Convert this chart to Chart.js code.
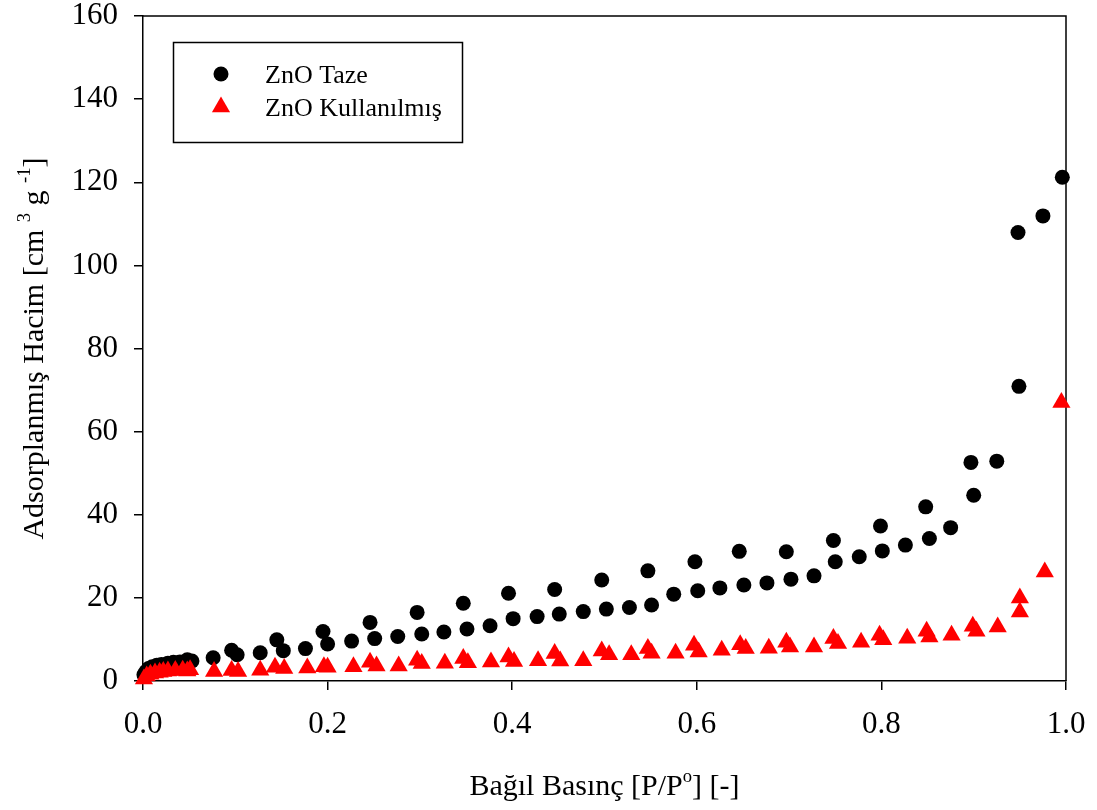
<!DOCTYPE html>
<html lang="tr">
<head>
<meta charset="UTF-8">
<title>ZnO Adsorpsiyon İzotermi</title>
<script src="https://cdn.jsdelivr.net/npm/chart.js"></script>
<style>
  body { margin: 0; background: #fff; }
</style>
</head>
<body>
<canvas id="isothermChart" width="1097" height="810"></canvas>
<script>
// Relative pressure (P/Po) and adsorbed volume; adsorption branch first, then desorption
const tazeP = [0.001, 0.003, 0.006, 0.010, 0.015, 0.020, 0.027, 0.033, 0.040, 0.048,
  0.053, 0.076, 0.102, 0.127, 0.152, 0.176, 0.200, 0.226, 0.251, 0.276,
  0.302, 0.326, 0.351, 0.376, 0.401, 0.427, 0.451, 0.477, 0.502, 0.527,
  0.551, 0.575, 0.601, 0.625, 0.651, 0.676, 0.702, 0.727, 0.750, 0.776,
  0.801, 0.826, 0.852, 0.875, 0.900, 0.925, 0.949, 0.975, 0.996,
  0.948, 0.897, 0.848, 0.799, 0.748, 0.697, 0.646, 0.598, 0.547, 0.497,
  0.446, 0.396, 0.347, 0.297, 0.246, 0.195, 0.145, 0.096, 0.048];
const tazeV = [1.5, 2.2, 3.0, 3.4, 3.8, 4.0, 4.3, 4.5, 4.6, 4.9,
  4.8, 5.6, 6.3, 6.8, 7.3, 7.8, 8.9, 9.6, 10.2, 10.7,
  11.3, 11.8, 12.5, 13.3, 15.0, 15.5, 16.1, 16.7, 17.3, 17.7,
  18.3, 20.9, 21.7, 22.4, 23.1, 23.6, 24.5, 25.3, 28.7, 29.9,
  31.3, 32.7, 34.3, 36.9, 44.7, 52.9, 70.9, 111.9, 121.2,
  107.9, 52.6, 41.9, 37.3, 33.8, 31.1, 31.2, 28.7, 26.5, 24.3,
  22.0, 21.1, 18.7, 16.5, 14.1, 11.9, 9.9, 7.4, 5.1];

const kullP = [0.001, 0.004, 0.008, 0.013, 0.018, 0.022, 0.027, 0.035, 0.043, 0.051,
  0.077, 0.103, 0.127, 0.153, 0.178, 0.200, 0.228, 0.253, 0.277, 0.302,
  0.327, 0.352, 0.377, 0.402, 0.428, 0.452, 0.477, 0.505, 0.529, 0.551,
  0.577, 0.602, 0.627, 0.653, 0.678, 0.701, 0.727, 0.753, 0.778, 0.802,
  0.828, 0.852, 0.876, 0.903, 0.926, 0.950, 0.977, 0.995,
  0.950, 0.899, 0.849, 0.798, 0.748, 0.697, 0.647, 0.597, 0.547, 0.497,
  0.446, 0.396, 0.347, 0.297, 0.246, 0.196, 0.143, 0.096, 0.048];
const kullV = [0.5, 1.2, 1.6, 1.9, 2.1, 2.3, 2.4, 2.5, 2.6, 2.7,
  2.3, 2.3, 2.6, 3.0, 3.1, 3.3, 3.4, 3.6, 3.6, 4.2,
  4.3, 4.4, 4.6, 4.7, 4.9, 4.8, 4.9, 6.3, 6.3, 6.7,
  6.7, 7.0, 7.4, 7.8, 7.9, 8.2, 8.2, 9.0, 9.3, 9.9,
  10.3, 10.6, 11.0, 12.0, 13.0, 16.6, 26.2, 67.0,
  20.0, 13.2, 12.0, 11.0, 10.2, 9.3, 8.7, 8.6, 7.8, 7.2,
  6.6, 5.8, 5.4, 5.0, 4.5, 3.4, 3.3, 2.5, 2.4];

const xTicks = [0, 0.2, 0.4, 0.6, 0.8, 1.0];
const yTicks = [0, 20, 40, 60, 80, 100, 120, 140, 160];

const seriesNames = ['ZnO Taze', 'ZnO Kullanılmış'];

const FONT = "'Liberation Serif', 'Times New Roman', serif";

function toPoints(xs, ys) {
  return xs.map((x, i) => ({ x: x, y: ys[i] }));
}

// text with raised parts, e.g. cm³ g⁻¹
function richWidth(ctx, parts, size) {
  let w = 0;
  parts.forEach(p => {
    ctx.font = (p.sup ? size * 0.62 : size) + 'px ' + FONT;
    w += ctx.measureText(p.t).width;
  });
  return w;
}
function drawRich(ctx, parts, x, y, size) {
  let cx = x;
  parts.forEach(p => {
    ctx.font = (p.sup ? size * 0.62 : size) + 'px ' + FONT;
    ctx.fillText(p.t, cx, p.sup ? y - size * 0.42 : y);
    cx += ctx.measureText(p.t).width;
  });
}

const xTitle = [{ t: 'Bağıl Basınç [P/P' }, { t: 'o', sup: true }, { t: '] [-]' }];
const yTitle = [{ t: 'Adsorplanmış Hacim [cm ' }, { t: '3', sup: true },
  { t: ' g ' }, { t: '-1', sup: true }, { t: ']' }];

// top/right frame lines and axis titles
const framePlugin = {
  id: 'frame',
  beforeDatasetsDraw(chart) {
    const { ctx, chartArea: a } = chart;
    ctx.save();
    ctx.strokeStyle = '#000';
    ctx.lineWidth = 1.5;
    ctx.beginPath();
    ctx.moveTo(a.left, a.top);
    ctx.lineTo(a.right, a.top);
    ctx.lineTo(a.right, a.bottom);
    ctx.stroke();
    ctx.restore();
  },
  afterDraw(chart) {
    const { ctx, chartArea: a } = chart;
    const size = 30;
    ctx.save();
    ctx.fillStyle = '#000';
    ctx.textBaseline = 'alphabetic';
    ctx.textAlign = 'left';
    const xw = richWidth(ctx, xTitle, size);
    drawRich(ctx, xTitle, (a.left + a.right) / 2 - xw / 2, 795, size);

    ctx.translate(43, (a.top + a.bottom) / 2);
    ctx.rotate(-Math.PI / 2);
    const yw = richWidth(ctx, yTitle, size);
    drawRich(ctx, yTitle, -yw / 2, 0, size);
    ctx.restore();
  }
};

// boxed legend inside the plot area
const legendPlugin = {
  id: 'boxLegend',
  afterDraw(chart) {
    const { ctx, chartArea: a } = chart;
    const left = a.left + 30, top = a.top + 26, w = 289, h = 100;
    ctx.save();
    ctx.strokeStyle = '#000';
    ctx.lineWidth = 1.5;
    ctx.strokeRect(left + 0.5, top + 0.5, w, h);
    ctx.font = '26px ' + FONT;
    ctx.fillStyle = '#000';
    ctx.textBaseline = 'alphabetic';
    const rows = [0, 1];
    rows.forEach(i => {
      const ds = chart.data.datasets.find(d => d.label === seriesNames[i]);
      const cy = top + 32 + i * 33;
      const mx = left + 48;
      ctx.fillStyle = ds.backgroundColor;
      ctx.beginPath();
      if (ds.pointStyle === 'triangle') {
        const r = ds.pointRadius;
        ctx.moveTo(mx, cy - r);
        ctx.lineTo(mx + Math.sin(2 * Math.PI / 3) * r, cy + r / 2);
        ctx.lineTo(mx - Math.sin(2 * Math.PI / 3) * r, cy + r / 2);
        ctx.closePath();
      } else {
        ctx.arc(mx, cy, ds.pointRadius, 0, Math.PI * 2);
      }
      ctx.fill();
      ctx.fillStyle = '#000';
      ctx.fillText(seriesNames[i], left + 92, cy + 9);
    });
    ctx.restore();
  }
};

const axisGrid = {
  drawOnChartArea: false,
  drawTicks: true,
  tickLength: 9,
  color: '#000',
  lineWidth: 1.5
};

// keep the plot box fixed; edge tick labels may overhang it
function noEdgePadding(s) {
  s.paddingTop = 0;
  s.paddingBottom = 0;
  s.paddingLeft = 0;
  s.paddingRight = 0;
}

new Chart(document.getElementById('isothermChart').getContext('2d'), {
  type: 'scatter',
  data: {
    datasets: [
      {
        label: seriesNames[1],
        data: toPoints(kullP, kullV),
        pointStyle: 'triangle',
        pointRadius: 10.5,
        backgroundColor: '#ff0000',
        borderColor: '#ff0000',
        borderWidth: 0,
        clip: false,
        order: 0
      },
      {
        label: seriesNames[0],
        data: toPoints(tazeP, tazeV),
        pointStyle: 'circle',
        pointRadius: 7.5,
        backgroundColor: '#000000',
        borderColor: '#000000',
        borderWidth: 0,
        clip: false,
        order: 1
      }
    ]
  },
  options: {
    responsive: false,
    animation: false,
    events: [],
    layout: { padding: { top: 16, right: 31, left: 0, bottom: 0 } },
    plugins: {
      legend: { display: false },
      tooltip: { enabled: false }
    },
    scales: {
      x: {
        type: 'linear',
        min: 0,
        max: 1,
        afterBuildTicks: s => { s.ticks = xTicks.map(v => ({ value: v })); },
        afterFit: s => { s.height = 129; noEdgePadding(s); },
        ticks: {
          color: '#000',
          font: { family: FONT, size: 31 },
          padding: 16,
          maxRotation: 0,
          callback: v => v.toFixed(1)
        },
        grid: axisGrid,
        border: { color: '#000', width: 1.5 }
      },
      y: {
        type: 'linear',
        min: 0,
        max: 160,
        afterBuildTicks: s => { s.ticks = yTicks.map(v => ({ value: v })); },
        afterFit: s => { s.width = 143; noEdgePadding(s); },
        ticks: {
          color: '#000',
          font: { family: FONT, size: 31 },
          padding: 16
        },
        grid: axisGrid,
        border: { color: '#000', width: 1.5 }
      }
    }
  },
  plugins: [framePlugin, legendPlugin]
});
</script>
</body>
</html>
